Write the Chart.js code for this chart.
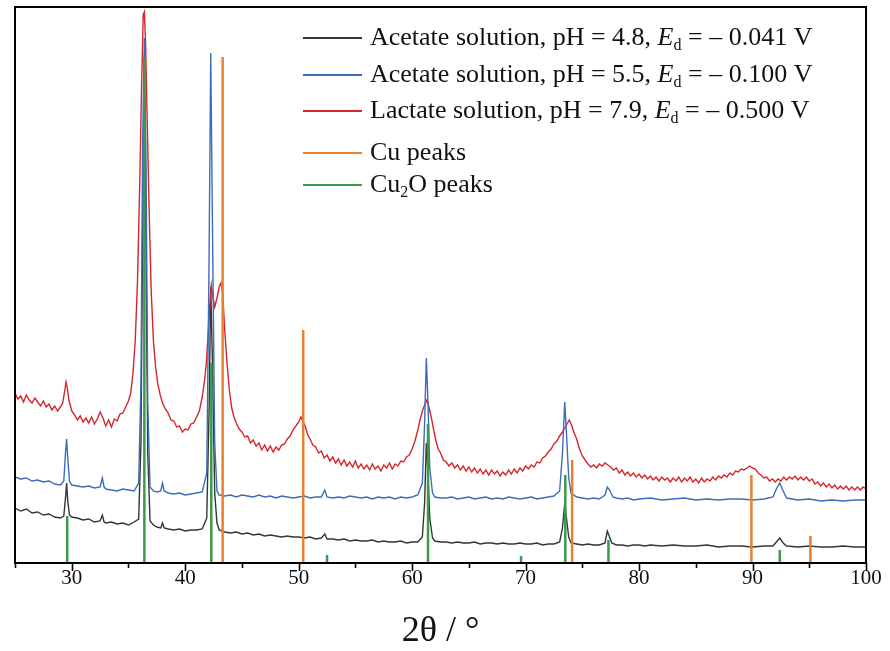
<!DOCTYPE html>
<html><head><meta charset="utf-8">
<script src="https://cdn.jsdelivr.net/npm/chart.js@4.4.0/dist/chart.umd.min.js"></script>
<style>html,body{margin:0;padding:0;background:#fff}#wrap{width:890px;height:651px}</style>
</head><body><div id="wrap"><canvas id="c" width="890" height="651"></canvas></div>
<script>
// ---- data (2θ in degrees, intensity in arbitrary units) ----
const blackX = [25,25.5,26,26.5,27,27.5,28,28.5,29,29.3,29.45,29.55,29.65,29.8,30,30.5,31,31.5,32,32.5,32.7,32.85,33,33.5,34,34.5,35,35.5,35.9,36.1,36.25,36.4,36.55,36.7,36.9,37.2,37.5,37.85,38,38.15,38.5,39,39.5,40,40.5,41,41.5,41.9,42.1,42.25,42.4,42.6,42.8,43,43.5,44,44.5,45,45.5,46,46.5,47,47.5,48,48.5,49,49.5,50,50.5,51,51.5,52,52.3,52.5,53,53.5,54,54.5,55,55.5,56,56.5,57,57.5,58,58.5,59,59.5,60,60.5,60.9,61.1,61.25,61.4,61.55,61.8,62,62.5,63,63.5,64,64.5,65,65.5,66,66.5,67,67.5,68,68.5,69,69.5,70,70.5,71,71.5,72,72.5,73,73.25,73.45,73.6,73.8,74,74.5,75,75.5,76,76.5,77,77.2,77.4,77.6,78,78.5,79,79.5,80,80.5,81,82,83,84,85,86,87,88,89,90,91,91.8,92.1,92.4,92.7,93,94,95,96,97,98,99,100];
const blackY = [55,52,54,50,51,48,49,46,45,47,65,80,62,48,46,45,43,44,41,42,48,41,40,41,39,40,38,41,44,120,330,480,310,110,42,38,36,35,40,35,34,33,34,32,33,33,34,45,150,276,200,70,40,33,31,30,31,29,30,28,29,27,28,27,26,27,26,26,25,26,24,25,29,24,24,23,24,22,23,22,22,23,21,22,21,21,22,20,21,21,26,60,120,90,45,25,22,21,21,20,21,20,20,21,19,20,20,19,20,19,19,20,19,19,20,18,19,19,21,35,60,45,26,20,19,18,19,18,18,20,32,26,20,18,18,17,18,18,17,18,17,18,17,17,18,16,17,17,16,17,17,21,25,20,17,16,17,16,16,17,16,16];

const blueX = [25,25.5,26,26.5,27,27.5,28,28.5,29,29.3,29.45,29.55,29.65,29.8,30,30.5,31,31.5,32,32.5,32.7,32.85,33,33.5,34,34.5,35,35.5,35.9,36.1,36.25,36.4,36.55,36.7,36.9,37.2,37.5,37.85,38,38.15,38.5,39,39.5,40,40.5,41,41.5,41.9,42.1,42.25,42.4,42.6,42.8,43,43.5,44,44.5,45,45.5,46,46.5,47,47.5,48,48.5,49,49.5,50,50.5,51,51.5,52,52.3,52.5,53,53.5,54,54.5,55,55.5,56,56.5,57,57.5,58,58.5,59,59.5,60,60.5,60.9,61.1,61.25,61.4,61.55,61.8,62,62.5,63,63.5,64,64.5,65,65.5,66,66.5,67,67.5,68,68.5,69,69.5,70,70.5,71,71.5,72,72.5,73,73.25,73.45,73.6,73.8,74,74.5,75,75.5,76,76.5,77,77.2,77.4,77.7,78,78.5,79,79.5,80,81,82,83,84,85,86,87,88,89,90,91,91.8,92.1,92.4,92.7,93,94,95,96,97,98,99,100];
const blueY = [86,84,85,82,83,81,82,79,78,82,110,124,105,82,78,77,76,77,75,76,85,76,74,73,72,74,73,72,80,180,420,525,400,160,76,72,71,72,80,72,70,69,70,68,69,70,71,90,300,510,340,120,72,68,67,68,66,68,67,66,68,66,67,65,67,66,65,66,67,65,66,66,73,66,65,66,65,67,66,65,66,64,66,65,66,64,66,65,66,68,80,140,205,160,95,70,66,65,65,66,64,65,66,64,65,66,64,65,64,66,65,64,65,66,64,65,66,67,72,110,161,130,85,70,66,65,64,65,64,68,76,73,66,65,64,65,63,64,65,63,64,65,63,64,63,64,64,63,64,66,74,80,72,65,63,64,62,63,62,63,63];

// red series as [2θ, intensity] pairs
const redPoints = [[25,170],[25.25,164],[25.5,167],[25.75,161],[26,168],[26.25,163],[26.5,160],[26.75,165],[27,161],[27.25,157],[27.5,162],[27.75,156],[28,159],[28.25,153],[28.5,157],[28.75,152],[29,156],[29.2,160],[29.35,170],[29.5,181],[29.6,176],[29.75,163],[30,152],[30.25,148],[30.5,143],[30.75,147],[31,141],[31.25,145],[31.5,140],[31.75,146],[32,139],[32.25,144],[32.5,151],[32.75,145],[33,137],[33.25,143],[33.5,136],[33.75,144],[34,142],[34.25,149],[34.5,150],[34.75,156],[35,162],[35.2,170],[35.4,190],[35.6,223],[35.8,283],[36,383],[36.15,473],[36.3,548],[36.4,551],[36.5,523],[36.65,443],[36.8,363],[37,273],[37.2,222],[37.4,195],[37.6,178],[37.8,168],[38,160],[38.25,154],[38.5,150],[38.75,143],[39,142],[39.25,136],[39.5,137],[39.75,131],[40,134],[40.25,133],[40.5,139],[40.75,140],[41,146],[41.25,152],[41.5,166],[41.7,182],[41.85,198],[42,225],[42.15,255],[42.3,278],[42.45,265],[42.6,256],[42.8,265],[43,276],[43.15,280],[43.3,270],[43.5,230],[43.7,198],[43.9,172],[44.1,155],[44.3,146],[44.5,140],[44.75,134],[45,131],[45.25,126],[45.5,127],[45.75,120],[46,123],[46.25,117],[46.5,120],[46.75,113],[47,118],[47.25,112],[47.5,117],[47.75,111],[48,116],[48.25,113],[48.5,118],[48.75,119],[49,124],[49.25,127],[49.5,133],[49.75,137],[50,141],[50.2,146],[50.4,141],[50.6,136],[50.8,128],[51,124],[51.25,118],[51.5,116],[51.75,110],[52,112],[52.25,105],[52.5,108],[52.75,102],[53,106],[53.25,100],[53.5,104],[53.75,98],[54,103],[54.25,97],[54.5,101],[54.75,96],[55,102],[55.25,95],[55.5,99],[55.75,94],[56,98],[56.25,93],[56.5,99],[56.75,94],[57,97],[57.25,92],[57.5,98],[57.75,95],[58,100],[58.25,94],[58.5,99],[58.75,97],[59,102],[59.25,101],[59.5,106],[59.75,108],[60,114],[60.25,122],[60.5,133],[60.7,143],[60.9,152],[61.1,158],[61.3,163],[61.5,155],[61.7,145],[61.9,133],[62.1,122],[62.3,114],[62.5,110],[62.75,103],[63,101],[63.25,97],[63.5,100],[63.75,95],[64,98],[64.25,93],[64.5,97],[64.75,92],[65,96],[65.25,91],[65.5,95],[65.75,90],[66,94],[66.25,89],[66.5,93],[66.75,88],[67,93],[67.25,89],[67.5,92],[67.75,87],[68,91],[68.25,88],[68.5,93],[68.75,89],[69,94],[69.25,90],[69.5,95],[69.75,92],[70,97],[70.25,94],[70.5,98],[70.75,96],[71,101],[71.25,100],[71.5,105],[71.75,107],[72,111],[72.25,114],[72.5,119],[72.75,122],[73,127],[73.2,130],[73.4,134],[73.6,138],[73.85,143],[74.05,138],[74.25,131],[74.5,124],[74.75,114],[75,107],[75.25,103],[75.5,99],[75.75,96],[76,98],[76.25,95],[76.5,99],[76.75,97],[77,100],[77.25,98],[77.5,96],[77.75,93],[78,95],[78.25,90],[78.5,93],[78.75,88],[79,91],[79.25,87],[79.5,90],[79.75,86],[80,89],[80.25,85],[80.5,88],[80.75,84],[81,87],[81.25,83],[81.5,86],[81.75,82],[82,86],[82.25,83],[82.5,85],[82.75,81],[83,85],[83.25,82],[83.5,86],[83.75,81],[84,85],[84.25,82],[84.5,86],[84.75,81],[85,84],[85.25,80],[85.5,85],[85.75,81],[86,84],[86.25,82],[86.5,86],[86.75,83],[87,87],[87.25,85],[87.5,88],[87.75,86],[88,90],[88.25,88],[88.5,92],[88.75,91],[89,94],[89.25,93],[89.5,95],[89.75,97],[90,95],[90.25,94],[90.5,90],[90.75,88],[91,85],[91.25,86],[91.5,82],[91.75,84],[92,81],[92.25,84],[92.5,82],[92.75,86],[93,83],[93.25,86],[93.5,84],[93.75,87],[94,83],[94.25,86],[94.5,83],[94.75,86],[95,82],[95.25,84],[95.5,79],[95.75,81],[96,77],[96.25,80],[96.5,76],[96.75,79],[97,75],[97.25,78],[97.5,74],[97.75,77],[98,74],[98.25,77],[98.5,73],[98.75,76],[99,73],[99.25,76],[99.5,73],[99.75,76],[100,74]];

const cuPos = [43.3, 50.4, 74.1, 89.9, 95.1];
const cuInt = [506, 233, 103, 88, 27];
const cu2oPos = [29.6, 36.4, 42.3, 52.5, 61.4, 69.6, 73.5, 77.3, 92.4];
const cu2oInt = [47, 506, 200, 8, 139, 7, 88, 23, 13];

const seriesLabels = ['Acetate solution, pH = 4.8, ', 'Acetate solution, pH = 5.5, ', 'Lactate solution, pH = 7.9, '];
const seriesPotentials = ['– 0.041 V', '– 0.100 V', '– 0.500 V'];
const xTitle = '2θ / °';
const xMin = 25, xMax = 100;
const xTickValues = [25,30,35,40,45,50,55,60,65,70,75,80,85,90,95,100];

const colors = {black:'#353535', blue:'#3e6cb8', red:'#d4262c', orange:'#e8802f', green:'#3c9a4b'};

function pts(xs, ys){ return xs.map((x,i)=>({x:x, y:ys[i]})); }
function sticks(pos, ints){ const out=[]; pos.forEach((p,i)=>{ out.push({x:p,y:0},{x:p,y:ints[i]},{x:p,y:null}); }); return out; }

const SERIF = '"Liberation Serif", "DejaVu Serif", serif';

const framePlugin = {
  id:'frame',
  afterDraw(chart){
    const {ctx, chartArea:a, scales:{x}} = chart;
    ctx.save();
    ctx.strokeStyle='#000'; ctx.lineWidth=2;
    ctx.strokeRect(a.left, a.top, a.right-a.left, a.bottom-a.top);
    ctx.lineWidth=1.6;
    xTickValues.forEach(v=>{
      const px = Math.round(x.getPixelForValue(v))+0.5;
      const len = (v%10===0) ? 8 : 5;
      ctx.beginPath(); ctx.moveTo(px, a.bottom); ctx.lineTo(px, a.bottom+len); ctx.stroke();
    });
    const rows = [
      {c:colors.black, y:38, parts:[{t:seriesLabels[0]},{t:'E',i:true},{t:'d',sub:true},{t:' = '+seriesPotentials[0]}]},
      {c:colors.blue, y:75, parts:[{t:seriesLabels[1]},{t:'E',i:true},{t:'d',sub:true},{t:' = '+seriesPotentials[1]}]},
      {c:colors.red, y:111, parts:[{t:seriesLabels[2]},{t:'E',i:true},{t:'d',sub:true},{t:' = '+seriesPotentials[2]}]},
      {c:colors.orange, y:153, parts:[{t:'Cu peaks'}]},
      {c:colors.green, y:185, parts:[{t:'Cu'},{t:'2',sub:true},{t:'O peaks'}]}
    ];
    const fs = 26;
    rows.forEach(r=>{
      ctx.strokeStyle=r.c; ctx.lineWidth=2;
      ctx.beginPath(); ctx.moveTo(303, r.y); ctx.lineTo(362, r.y); ctx.stroke();
      let tx = 370;
      ctx.fillStyle='#111'; ctx.textBaseline='middle'; ctx.textAlign='left';
      r.parts.forEach(p=>{
        const size = p.sub ? 16 : fs;
        ctx.font = (p.i?'italic ':'') + size + 'px ' + SERIF;
        ctx.fillText(p.t, tx, r.y + (p.sub ? 8 : 0));
        tx += ctx.measureText(p.t).width;
      });
    });
    ctx.restore();
  }
};

new Chart(document.getElementById('c'), {
  type:'line',
  data:{ datasets:[
    {label:'Cu2O peaks', data:sticks(cu2oPos, cu2oInt), borderColor:colors.green, borderWidth:2.5, pointRadius:0, spanGaps:false, order:0},
    {label:'Cu peaks', data:sticks(cuPos, cuInt), borderColor:colors.orange, borderWidth:2.5, pointRadius:0, spanGaps:false, order:1},
    {label:seriesLabels[1], data:pts(blueX, blueY), borderColor:colors.blue, borderWidth:1.4, pointRadius:0, tension:0, order:2},
    {label:seriesLabels[2], data:redPoints.map(p=>({x:p[0], y:p[1]})), borderColor:colors.red, borderWidth:1.4, pointRadius:0, tension:0, order:3},
    {label:seriesLabels[0], data:pts(blackX, blackY), borderColor:colors.black, borderWidth:1.4, pointRadius:0, tension:0, order:4}
  ]},
  options:{
    responsive:false, animation:false, devicePixelRatio:1,
    layout:{padding:{left:15, right:24, top:7, bottom:0}},
    plugins:{legend:{display:false}, tooltip:{enabled:false}},
    scales:{
      x:{type:'linear', min:xMin, max:xMax,
        afterBuildTicks:(s)=>{ s.ticks = xTickValues.map(v=>({value:v})); },
        afterFit:(s)=>{ s.height = 88; },
        grid:{display:false, drawTicks:false},
        border:{display:false},
        ticks:{autoSkip:false, maxRotation:0, padding:3, color:'#111', font:{family:SERIF, size:21},
          callback:(v)=> (v%10===0 && v!==xMin) ? String(v) : ''},
        title:{display:true, text:xTitle, color:'#111', font:{family:SERIF, size:36, lineHeight:1.0}, padding:{top:0,bottom:1}}
      },
      y:{display:false, min:0, max:556}
    }
  },
  plugins:[framePlugin]
});
</script></body></html>
